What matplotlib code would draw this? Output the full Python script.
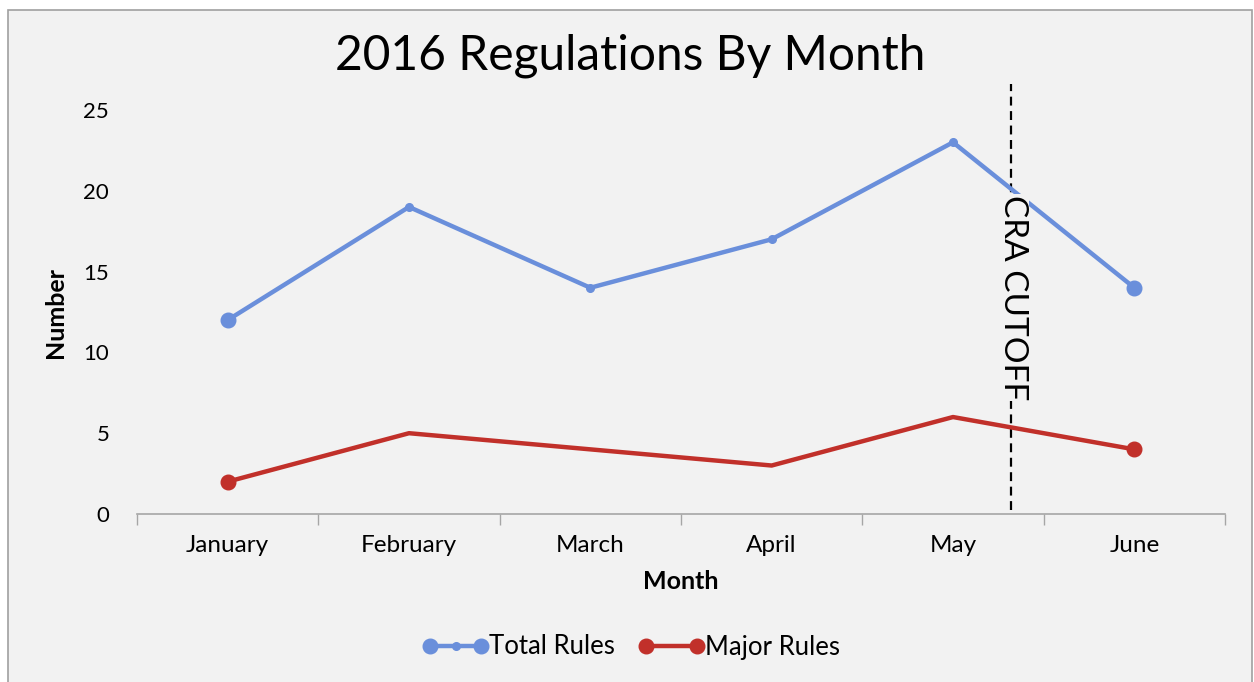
import matplotlib
matplotlib.use("Agg")
import matplotlib.pyplot as plt
from matplotlib.lines import Line2D
from matplotlib.patches import Rectangle
from matplotlib.legend_handler import HandlerTuple, HandlerLine2D
import numpy as np

# ---- data ----
months = ["January", "February", "March", "April", "May", "June"]
total_rules = [12, 19, 14, 17, 23, 14]
major_rules = [2, 5, 4, 3, 6, 4]
y_ticks = [0, 5, 10, 15, 20, 25]
cutoff_x = 4.32  # CRA cutoff, between May and June

blue = "#6A8FDB"
red = "#C1302A"
bg = "#F2F2F2"

plt.rcParams['font.family'] = ['Lato', 'DejaVu Sans']

fig = plt.figure(figsize=(12.54, 6.82), dpi=100, facecolor="white")
fig.patches.append(Rectangle((7.5 / 1254, -0.01), (1252 - 7.5) / 1254, 1 - 9.5 / 682 + 0.01,
                             transform=fig.transFigure, facecolor=bg,
                             edgecolor="#A0A0A0", linewidth=1.2, zorder=-5))

ax = fig.add_axes([137 / 1254, 1 - 514 / 682, (1225 - 137) / 1254, (514 - 110) / 682])
ax.set_facecolor("none")
ax.set_zorder(2)

x = np.arange(len(months))

# total rules: small markers in the middle, big ones at the ends
ax.plot(x, total_rules, color=blue, lw=3.2, marker="o", ms=5.5, solid_capstyle="round", zorder=3)
ax.plot(x, total_rules, color=blue, lw=0, marker="o", ms=10.5, markevery=[0, len(x) - 1], zorder=4)
# major rules: big markers at the ends only
ax.plot(x, major_rules, color=red, lw=3.2, marker="o", ms=10.5, markevery=[0, len(x) - 1], zorder=3)

# CRA cutoff line + label
ax.plot([cutoff_x, cutoff_x], [0.25, 26.6], color="black", lw=1.6,
        linestyle=(0, (4, 2.5)), clip_on=False, zorder=2)
ax.text(cutoff_x + 0.01, 13.4, "CRA CUTOFF", rotation=-90, ha="center", va="center",
        fontsize=24, color="black", zorder=5,
        bbox=dict(facecolor=bg, edgecolor="none", pad=0.5))

ax.set_xlim(-0.5, len(months) - 0.5)
ax.set_ylim(0, 25)
ax.set_yticks(y_ticks)
ax.set_yticklabels([str(v) for v in y_ticks], fontsize=16)
ax.set_xticks(x)
ax.set_xticklabels(months, fontsize=17.5)
ax.set_xticks(np.arange(-0.5, len(months)), minor=True)
ax.tick_params(axis="x", which="major", length=0, pad=15)
ax.tick_params(axis="x", which="minor", length=8, color="#A6A6A6", width=1)
ax.tick_params(axis="y", length=0, pad=20)

for s in ["top", "right", "left"]:
    ax.spines[s].set_visible(False)
ax.spines["bottom"].set_color("#A6A6A6")
ax.spines["bottom"].set_linewidth(1.2)

ax.set_xlabel("Month", fontsize=18, fontweight="bold", labelpad=10)
ax.set_ylabel("Number", fontsize=18, fontweight="bold", labelpad=12)

fig.text(630 / 1254, 1 - 56 / 682, "2016 Regulations By Month", ha="center", va="center",
         fontsize=34.5)

# legend
t_small = Line2D([], [], color=blue, lw=3.2, marker="o", ms=5.5)
t_big = Line2D([], [], color=blue, lw=0, marker="o", ms=10.5)
m_line = Line2D([], [], color=red, lw=3.2, marker="o", ms=10.5)
fig.legend([(t_small, t_big), m_line], ["Total Rules", "Major Rules"],
           handler_map={t_small: HandlerLine2D(numpoints=3),
                        tuple: HandlerTuple(ndivide=1, pad=0)},
           loc="center", bbox_to_anchor=(631 / 1254, 1 - 647 / 682), ncol=2,
           frameon=False, fontsize=18.5, handlelength=2.6, handletextpad=0.0,
           columnspacing=0.9, numpoints=2)

fig.savefig("out.png", dpi=100, facecolor=fig.get_facecolor())
